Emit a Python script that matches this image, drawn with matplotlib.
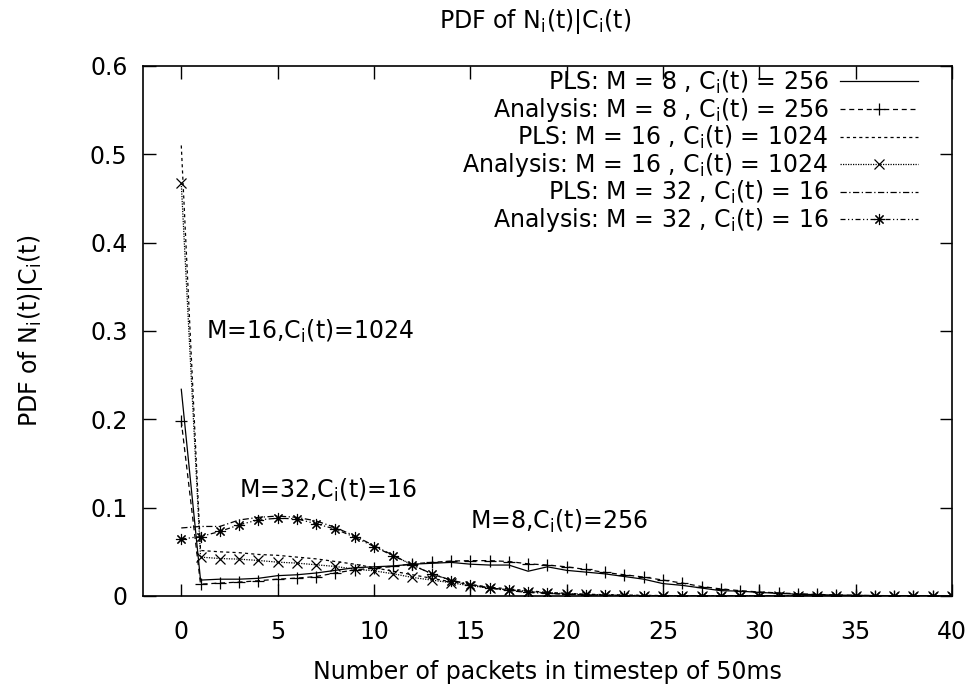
import matplotlib
matplotlib.use('Agg')
import matplotlib.pyplot as plt

plt.rcParams['font.family'] = ['DejaVu Sans']
plt.rcParams['mathtext.fontset'] = 'dejavusans'
plt.rcParams['mathtext.default'] = 'regular'

# paquetes por intervalo de 50 ms
n = list(range(41))

pls_8 = [0.234, 0.018, 0.019, 0.019, 0.020, 0.023, 0.024, 0.026, 0.029, 0.032,
         0.033, 0.034, 0.036, 0.037, 0.038, 0.036, 0.035, 0.035, 0.028, 0.033,
         0.029, 0.027, 0.025, 0.022, 0.019, 0.014, 0.012, 0.009, 0.006, 0.0055,
         0.004, 0.003, 0.002, 0.0015, 0.001, 0.0007, 0.0005, 0.0003, 0.0002, 0.0001, 0.0]
ana_8 = [0.198, 0.0134, 0.0146, 0.0157, 0.0172, 0.019, 0.0202, 0.022, 0.026, 0.0296,
         0.0315, 0.0334, 0.0364, 0.038, 0.0395, 0.040, 0.040, 0.039, 0.0364, 0.035,
         0.033, 0.030, 0.0266, 0.024, 0.0214, 0.018, 0.0146, 0.0107, 0.008, 0.006,
         0.0045, 0.0035, 0.0025, 0.0017, 0.0011, 0.0007, 0.0004, 0.0002, 0.0001, 0.0, 0.0]
pls_16 = [0.51, 0.0515, 0.050, 0.049, 0.047, 0.046, 0.044, 0.042, 0.039, 0.036,
          0.032, 0.028, 0.024, 0.020, 0.016, 0.013, 0.010, 0.008, 0.006, 0.004,
          0.003, 0.002, 0.0015, 0.001, 0.0007, 0.0005, 0.0003, 0.0002, 0.0001, 0.0,
          0.0, 0.0, 0.0, 0.0, 0.0, 0.0, 0.0, 0.0, 0.0, 0.0, 0.0]
ana_16 = [0.467, 0.044, 0.0424, 0.0417, 0.0402, 0.0383, 0.0372, 0.0353, 0.0334, 0.0304,
          0.0285, 0.0251, 0.021, 0.018, 0.015, 0.0115, 0.009, 0.007, 0.005, 0.0037,
          0.0026, 0.0018, 0.0012, 0.0008, 0.0005, 0.0003, 0.0002, 0.0001, 0.0, 0.0,
          0.0, 0.0, 0.0, 0.0, 0.0, 0.0, 0.0, 0.0, 0.0, 0.0, 0.0]
pls_32 = [0.077, 0.0787, 0.0787, 0.086, 0.089, 0.0905, 0.089, 0.085, 0.0775, 0.068,
          0.057, 0.046, 0.035, 0.025, 0.018, 0.013, 0.009, 0.006, 0.004, 0.003,
          0.002, 0.0013, 0.0008, 0.0005, 0.0003, 0.0002, 0.0001, 0.0, 0.0, 0.0,
          0.0, 0.0, 0.0, 0.0, 0.0, 0.0, 0.0, 0.0, 0.0, 0.0, 0.0]
ana_32 = [0.0644, 0.0673, 0.073, 0.0805, 0.0862, 0.088, 0.0873, 0.0817, 0.0757, 0.0666,
          0.056, 0.0455, 0.0353, 0.0251, 0.0175, 0.0127, 0.009, 0.007, 0.005, 0.003,
          0.002, 0.0013, 0.0008, 0.0005, 0.0003, 0.0002, 0.0001, 0.0, 0.0, 0.0,
          0.0, 0.0, 0.0, 0.0, 0.0, 0.0, 0.0, 0.0, 0.0, 0.0, 0.0]

etiquetas = ['PLS: M = 8 , C$_i$(t) = 256', 'Analysis: M = 8 , C$_i$(t) = 256',
             'PLS: M = 16 , C$_i$(t) = 1024', 'Analysis: M = 16 , C$_i$(t) = 1024',
             'PLS: M = 32 , C$_i$(t) = 16', 'Analysis: M = 32 , C$_i$(t) = 16']

fs = 17

fig = plt.figure(figsize=(9.75, 6.87), dpi=100)
ax = fig.add_axes([0.1464, 0.1325, 0.83, 0.7715])

lw = 0.9
ax.plot(n, pls_8, '-', color='k', linewidth=lw, label=etiquetas[0])
ax.plot(n, ana_8, color='k', linewidth=lw, dashes=(4, 3), marker='+', markersize=9,
        markeredgewidth=0.9, label=etiquetas[1])
ax.plot(n, pls_16, color='k', linewidth=lw, dashes=(2.5, 2.5), label=etiquetas[2])
ax.plot(n, ana_16, color='k', linewidth=lw, dashes=(1, 1), marker='x', markersize=7,
        markeredgewidth=0.9, label=etiquetas[3])
ax.plot(n, pls_32, color='k', linewidth=lw, dashes=(5, 2, 1, 2), label=etiquetas[4])
ax.plot(n, ana_32, color='k', linewidth=lw, dashes=(4, 2, 1, 2, 1, 2), marker=(8, 2, 0),
        markersize=8, markeredgewidth=0.8, label=etiquetas[5])

ax.set_xlim(-2, 40)
ax.set_ylim(0, 0.6)
ax.set_xticks(range(0, 41, 5))
ax.set_yticks([0, 0.1, 0.2, 0.3, 0.4, 0.5, 0.6])
ax.set_yticklabels(['0', '0.1', '0.2', '0.3', '0.4', '0.5', '0.6'])
ax.tick_params(direction='in', length=9, width=1, top=True, right=True,
               labelsize=fs)
ax.tick_params(axis='x', pad=17)
ax.tick_params(axis='y', pad=11)
for s in ax.spines.values():
    s.set_linewidth(1.2)

ax.text(1.3, 0.30, 'M=16,C$_i$(t)=1024', fontsize=fs, va='center', ha='left')
ax.text(3.0, 0.12, 'M=32,C$_i$(t)=16', fontsize=fs, va='center', ha='left')
ax.text(15.0, 0.084, 'M=8,C$_i$(t)=256', fontsize=fs, va='center', ha='left')

ax.set_xlabel('Number of packets in timestep of 50ms', fontsize=fs, labelpad=12)
ax.set_ylabel('PDF of N$_i$(t)|C$_i$(t)', fontsize=fs, labelpad=32)
ax.set_title('PDF of N$_i$(t)|C$_i$(t)', fontsize=fs, pad=27, x=0.485)

leg = ax.legend(loc='upper right', bbox_to_anchor=(0.958, 0.995), frameon=False,
                markerfirst=False, numpoints=1, fontsize=fs, handlelength=3.3,
                labelspacing=0.0, handletextpad=0.5, borderaxespad=0, borderpad=0)

fig.savefig('out.png', dpi=100)
